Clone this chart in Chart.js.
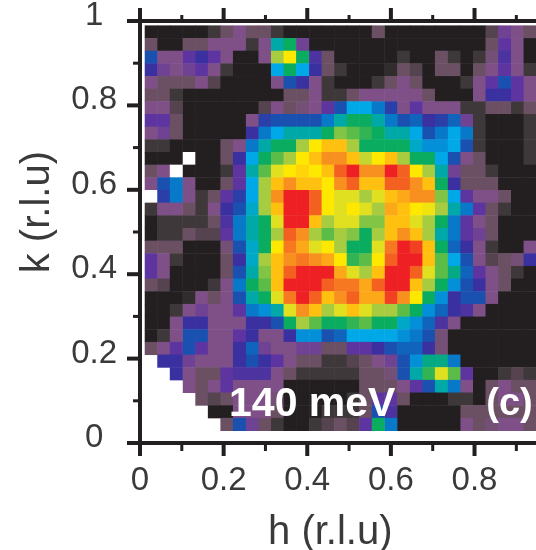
<!DOCTYPE html>
<html>
<head>
<meta charset="utf-8">
<style>
  html, body { margin: 0; padding: 0; background: #fff; }
  #wrap { width: 536px; height: 550px; }
</style>
<script src="https://cdn.jsdelivr.net/npm/chart.js@4"></script>
</head>
<body>
<div id="wrap"><canvas id="mapChart" width="536" height="550"></canvas></div>
<script>
// cell centres along h and k (k listed top row first)
const hValues = [0.027, 0.057, 0.087, 0.118, 0.148, 0.178, 0.208, 0.238, 0.269, 0.299, 0.329, 0.359, 0.389, 0.42, 0.45, 0.48,
    0.51, 0.54, 0.57, 0.601, 0.631, 0.661, 0.691, 0.721, 0.752, 0.782, 0.812, 0.842, 0.872, 0.903, 0.933];
const kValues = [0.974, 0.944, 0.914, 0.884, 0.854, 0.824, 0.794, 0.764, 0.734, 0.704, 0.674, 0.644, 0.614, 0.584, 0.554, 0.524,
    0.494, 0.464, 0.434, 0.404, 0.374, 0.344, 0.314, 0.284, 0.254, 0.224, 0.194, 0.164, 0.134, 0.104, 0.074, 0.044];

const xTickLabels = ['0', '', '0.2', '', '0.4', '', '0.6', '', '0.8', ''];
const yTickLabels = ['0', '', '0.2', '', '0.4', '', '0.6', '', '0.8', '', '1'];

// intensity, colour steps 0..19, null = no data
const intensityRows = [
    [0,0,0,0,0,1,2,3,2,2,1,0,0,0,0,0,0,0,2,0,0,0,0,0,0,0,0,1.5,3.5,3,2],
    [2,0,0,2,2,3,3,3,1,3,9,10,3.5,0,0,0,0,0,0,0,0,0,0,0,0,0,0,2,4,3,0],
    [6,3,3,4,5,4,3,0,0,3,12,14,10,4.5,2,0,0,0,0,0,1,0,0,2,1,0,1,2.5,4.5,3,0],
    [5,3.5,3,3.5,4,3,1,0,0,0,8,10,8,5,2,1,0,0,0,0.5,2,1.5,0,2,2,0,2,3,4,3,1],
    [3,2,2,2,3,1.5,0,0,0,0,3,6,5,3,1,0,0,0,1,2,3,2,0,0,0,1,3,4,6,4,3],
    [2,2,1,0,0,0,0,0,0,0,0,2,2,3,1,1,2,3,3,3,3,3,2,0,0,0,3,5,5,4,3],
    [3,3,1.5,0,0,0,0,0,0,1.5,3,2,2.5,3,4,6,8,8,7,5.5,3,4,3,3,3,1,1,2,2,1,2],
    [4,4,2,0,0,0,0,0,3,5.5,6,6,6,6,7,9,10,10,9,7,6,6.5,5,5.5,6.5,3.5,1,0,0,0,1],
    [3,3.5,2,0,0,0,0,0,5,7,8,9,9,9,10,11.5,11,10.5,10,9,9,8,6,7,8,7,1,0,0,0,1],
    [1,1,0,0,0,0,2,3,7,9,10,10,12,14,15,15,12,10,10,10,10,8.5,7.5,7.5,8,6,1,0,0,0,1],
    [0,0,0,19,0,0,2,5,8,10,11,12,14,15,16,16,15,12.5,14,15,12,10,10,8,6,3,2,0,0,0,1],
    [2,3,19,0,0,0,1,4,9,11,13,14,14.5,14,15,17,18,16,16,18,17,14,12,9,3.5,2,2,1,0,0,0],
    [3,6,7,3,0,0,2,4,8,12,15,16,15,15,14,16,17,15,15,17,17,16,15,10,5,2,2,2,0,0,0],
    [19,5.5,7,3,1,2,4,5.5,8,12,16,18,18,17,14,13,13,12,13,15,15.5,16,16,11.5,8,4,3,3,2,0,0],
    [1,3,3,2,1,3,5,6,8.5,12,15,18,18,17,14,13,14,13,12,15.5,15,14,13.5,12,9,7,4,2,1,0,0],
    [0,1,1,1,1,2,4.5,7,9,10,13,18,18,15,12,13,13,11.5,11.5,15,15,13,12,10,7,4,3,2,0,0,0],
    [0,1,1,2,1.5,1.5,4,7,9,10,12,17,16,12,11,12,11.5,10,12,15,16,15,12,9,7,4,3.5,2,0,0,0],
    [2,2,2,0,0,0,2.5,6,8.5,10,14,16.5,15.5,13,14,12,10,10,13,16.5,18,17.5,15,10,6.5,5,3,1,0,0,3],
    [4,3,1,0,0,0,2,5,8.5,12,15,16,16.5,16,15.5,14,10.5,11,14,17,18,18,15,11,8,6,3,1.5,2,2.5,5],
    [4,3,0,0,0,0,2,6,9,11.5,15,17,18,18,18,15.5,13,12,15,18,18,17,13,11,9.5,6.5,4,3,2,1,0],
    [2,1.5,0,0,0,1,3,7,10,11,15,18,18,18,17,16.5,16.5,15.5,17,18,18,15,12,10,7.5,6,5,3,2,0,0],
    [0,0,0,0.5,3,2,3,6,9,10,13,16.5,18,17,15,16,17,15.5,15.5,17.5,16,14,10,7.5,5,6,6,3,0,0,0],
    [0,0,1,3,3.5,3,3,4,7,7.5,9,13,16,15,12,13,15,13,12,12,11,10,7.5,6.5,5,4.5,3,0,0,0,0],
    [0,0,3,5,5,3,3,3,5,5,6,10,12,11,10,10,10.5,11,10,10,8.5,7.5,6.5,4.5,3,0,0,0,0,0,0],
    [0,1,3,6,6,3,3,4,5,3,3,5,7.5,7.5,6,6.5,8,8,8,8,7.5,7,6,2.5,0,0,0,0,0,0,0],
    [2,3,4,6,4,3,3,5,6.5,3.5,3,3,3.5,3.5,2,2,4,4,5,6,6.5,6.5,5,2.5,0,0,0,0,0,0,0],
    [null,5,5,3.5,3,3,3,5,6,5,4,3,2,2,1,1,1.5,2,3,3.5,6,7.5,9.5,9.5,7,0,0,0,0,0,0],
    [null,null,5,3,2,2,4,4.5,4.5,4.5,3,2,1,1,1,1,1,2,2,2.5,6,9,10.5,13,11,4,0,0,1,1.5,1],
    [null,null,null,3,2,3,4,3,3,3,3,0,0,0,0,0,0,2,2,2,3,4,6,9,7,3,0,2,3,2,2],
    [null,null,null,null,2,1.5,2,3,3,3,2.5,0,0,0,0,0,1,2,4,4,2,0,0,0,1,1,0,2,3,3,2],
    [null,null,null,null,null,0,0,3,3,3,2,0,0,0,1,1,1,2,6,4.5,0,0,0,0,0,2,2,2,2,2,2],
    [null,null,null,null,null,null,2,6,3.5,2,1,0,0,1,1.5,2,1.5,4,10,7,0,0,0,0,0,3,2,2.5,3,3,2]
];

// colour for each step of the map
const colorSteps = ['#231f20', '#3f383b', '#6b5064', '#7f4f88', '#5e35a0', '#3a30a0', '#1a50b0', '#0878c8', '#00a8e8', '#00a8a8',
    '#0aac60', '#5cbc48', '#a8cc40', '#e0e020', '#ffe800', '#ffc010', '#f89020', '#f46020', '#ee2024', '#ffffff'];

function hexToRgb(hex) {
    return [1, 3, 5].map(function(i) { return parseInt(hex.substr(i, 2), 16); });
}

function stepColor(v) {
    const lo = Math.floor(v);
    const hi = Math.min(lo + 1, colorSteps.length - 1);
    const a = hexToRgb(colorSteps[lo]);
    const b = hexToRgb(colorSteps[hi]);
    const t = v - lo;
    return 'rgb(' + a.map(function(c, i) { return Math.round(c + (b[i] - c) * t); }).join(',') + ')';
}

const cells = [];
intensityRows.forEach(function(row, r) {
    row.forEach(function(v, c) {
        if (v !== null) cells.push({ x: hValues[c], y: kValues[r], v: v });
    });
});

const axisColor = '#231f20';
const textColor = '#3a3a3a';

// frame with long and short ticks, axis titles, and the two white labels inside the map
const framePlugin = {
    id: 'frame',
    afterDatasetsDraw: function(chart) {
        const ctx = chart.ctx;
        const area = chart.chartArea;
        const x = chart.scales.x;
        const y = chart.scales.y;
        ctx.save();
        ctx.strokeStyle = axisColor;
        ctx.lineWidth = 4;
        ctx.beginPath();
        ctx.moveTo(area.left, area.top);
        ctx.lineTo(area.left, area.bottom);
        ctx.moveTo(area.left, area.top);
        ctx.lineTo(area.right, area.top);
        ctx.moveTo(area.left, area.bottom);
        ctx.lineTo(area.right, area.bottom);
        ctx.stroke();
        x.ticks.forEach(function(t, i) {
            const px = x.getPixelForValue(t.value);
            const long = i % 2 === 0;
            ctx.lineWidth = long ? 4 : 3;
            ctx.beginPath();
            ctx.moveTo(px, area.bottom);
            ctx.lineTo(px, area.bottom + (long ? 13 : 8));
            ctx.moveTo(px, area.top);
            ctx.lineTo(px, area.top - (long ? 13 : 6));
            ctx.stroke();
        });
        y.ticks.forEach(function(t, i) {
            const py = y.getPixelForValue(t.value);
            const long = i % 2 === 0;
            ctx.lineWidth = long ? 4 : 3;
            ctx.beginPath();
            ctx.moveTo(area.left, py);
            ctx.lineTo(area.left - (long ? 13 : 7), py);
            ctx.stroke();
        });

        // axis titles sit off centre in the original
        ctx.fillStyle = textColor;
        ctx.font = '40px "Liberation Sans"';
        ctx.textAlign = 'center';
        ctx.textBaseline = 'alphabetic';
        ctx.fillText('h (r.l.u)', x.getPixelForValue(0.455), 544);
        ctx.translate(49, y.getPixelForValue(0.547));
        ctx.rotate(-Math.PI / 2);
        ctx.fillText('k (r.l.u)', 0, 0);
        ctx.restore();

        ctx.save();
        ctx.fillStyle = '#ffffff';
        ctx.textBaseline = 'middle';
        ctx.textAlign = 'left';
        ctx.font = 'bold 41px "Liberation Sans"';
        ctx.fillText('140 meV', x.getPixelForValue(0.213), y.getPixelForValue(0.09));
        ctx.font = 'bold 38px "Liberation Sans"';
        ctx.fillText('(c)', x.getPixelForValue(0.828), y.getPixelForValue(0.092));
        ctx.restore();
    }
};

new Chart(document.getElementById('mapChart').getContext('2d'), {
    type: 'scatter',
    data: {
        datasets: [{
            data: cells,
            pointStyle: 'rect',
            pointRadius: 9.3,
            pointHoverRadius: 9.3,
            pointBorderWidth: 0,
            backgroundColor: cells.map(function(c) { return stepColor(c.v); })
        }]
    },
    options: {
        responsive: false,
        animation: false,
        layout: { autoPadding: false, padding: { top: 21, right: 0, bottom: 0, left: 0 } },
        plugins: { legend: { display: false }, tooltip: { enabled: false } },
        scales: {
            x: {
                type: 'linear',
                min: 0,
                max: 0.947,
                afterFit: function(scale) {
                    scale.height = 107;
                    scale.paddingLeft = 0;
                    scale.paddingRight = 0;
                },
                grid: { display: false, drawTicks: false },
                border: { display: false },
                ticks: {
                    stepSize: 0.1,
                    includeBounds: false,
                    autoSkip: false,
                    maxRotation: 0,
                    padding: 18,
                    color: textColor,
                    font: { family: 'Liberation Sans', size: 33 },
                    callback: function(v) { return xTickLabels[Math.round(v * 10)]; }
                }
            },
            y: {
                type: 'linear',
                min: 0,
                max: 1,
                afterFit: function(scale) {
                    scale.width = 140;
                    scale.paddingTop = 0;
                    scale.paddingBottom = 0;
                },
                grid: { display: false, drawTicks: false },
                border: { display: false },
                ticks: {
                    stepSize: 0.1,
                    autoSkip: false,
                    padding: 23,
                    labelOffset: -5,
                    crossAlign: 'center',
                    color: textColor,
                    font: { family: 'Liberation Sans', size: 33 },
                    callback: function(v) { return yTickLabels[Math.round(v * 10)]; }
                }
            }
        }
    },
    plugins: [framePlugin]
});
</script>
</body>
</html>
